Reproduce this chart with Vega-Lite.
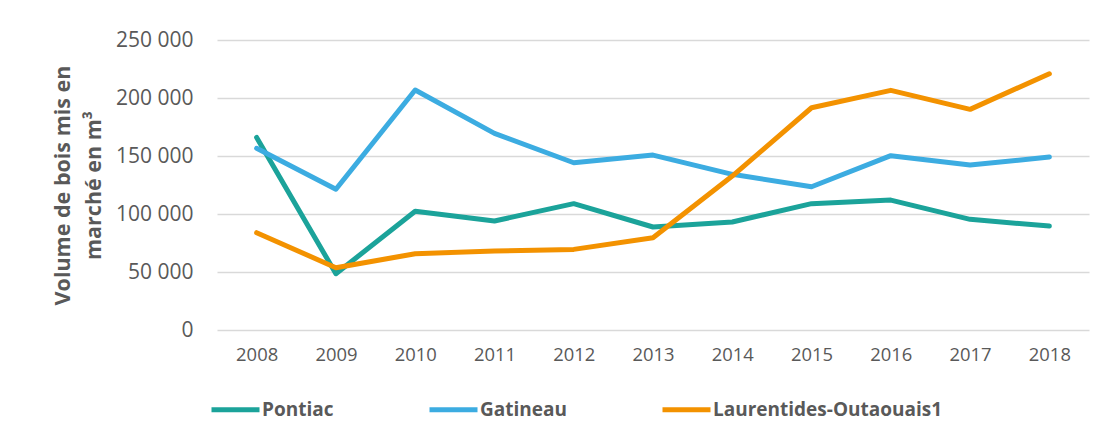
{
  "$schema": "https://vega.github.io/schema/vega-lite/v6.json",
  "width": 872,
  "height": 290,
  "padding": {"left": 52, "top": 29, "right": 18, "bottom": 0},
  "background": "white",
  "config": {
    "locale": {"number": {"decimal": ",", "thousands": " ", "grouping": [3], "currency": ["", " $"]}},
    "view": {"stroke": null},
    "font": "Open Sans",
    "axis": {"labelColor": "#595959", "titleColor": "#595959", "gridColor": "#d9d9d9", "gridWidth": 1.3, "domain": false, "ticks": false}
  },
  "data": {"values": [
    {"year": "2008", "region": "Pontiac", "volume": 166000},
    {"year": "2009", "region": "Pontiac", "volume": 48500},
    {"year": "2010", "region": "Pontiac", "volume": 102300},
    {"year": "2011", "region": "Pontiac", "volume": 94000},
    {"year": "2012", "region": "Pontiac", "volume": 108900},
    {"year": "2013", "region": "Pontiac", "volume": 88800},
    {"year": "2014", "region": "Pontiac", "volume": 93100},
    {"year": "2015", "region": "Pontiac", "volume": 108900},
    {"year": "2016", "region": "Pontiac", "volume": 112000},
    {"year": "2017", "region": "Pontiac", "volume": 95400},
    {"year": "2018", "region": "Pontiac", "volume": 89600},
    {"year": "2008", "region": "Gatineau", "volume": 156600},
    {"year": "2009", "region": "Gatineau", "volume": 121300},
    {"year": "2010", "region": "Gatineau", "volume": 206900},
    {"year": "2011", "region": "Gatineau", "volume": 169500},
    {"year": "2012", "region": "Gatineau", "volume": 144200},
    {"year": "2013", "region": "Gatineau", "volume": 150800},
    {"year": "2014", "region": "Gatineau", "volume": 134200},
    {"year": "2015", "region": "Gatineau", "volume": 123500},
    {"year": "2016", "region": "Gatineau", "volume": 150300},
    {"year": "2017", "region": "Gatineau", "volume": 142200},
    {"year": "2018", "region": "Gatineau", "volume": 149100},
    {"year": "2008", "region": "Laurentides-Outaouais1", "volume": 83900},
    {"year": "2009", "region": "Laurentides-Outaouais1", "volume": 53700},
    {"year": "2010", "region": "Laurentides-Outaouais1", "volume": 65800},
    {"year": "2011", "region": "Laurentides-Outaouais1", "volume": 68100},
    {"year": "2012", "region": "Laurentides-Outaouais1", "volume": 69500},
    {"year": "2013", "region": "Laurentides-Outaouais1", "volume": 79600},
    {"year": "2014", "region": "Laurentides-Outaouais1", "volume": 132700},
    {"year": "2015", "region": "Laurentides-Outaouais1", "volume": 191600},
    {"year": "2016", "region": "Laurentides-Outaouais1", "volume": 206600},
    {"year": "2017", "region": "Laurentides-Outaouais1", "volume": 190200},
    {"year": "2018", "region": "Laurentides-Outaouais1", "volume": 220900}
  ]},
  "mark": {"type": "line", "strokeWidth": 5, "strokeCap": "round", "strokeJoin": "round"},
  "encoding": {
    "x": {"field": "year", "type": "ordinal", "axis": {"labelAngle": 0, "title": null, "labelFontSize": 18.4, "labelPadding": 15, "grid": false}},
    "y": {"field": "volume", "type": "quantitative", "scale": {"domain": [0, 250000]},
      "axis": {"values": [0, 50000, 100000, 150000, 200000, 250000], "format": ",d", "labelFontSize": 21, "labelPadding": 24,
        "title": ["Volume de bois mis en", "marché en m³"], "titleFontSize": 21.5, "titleFontWeight": "bold", "titleLineHeight": 31, "titlePadding": 10}},
    "color": {"field": "region", "type": "nominal",
      "scale": {"domain": ["Pontiac", "Gatineau", "Laurentides-Outaouais1"], "range": ["#1ba39a", "#3cace1", "#f39200"]},
      "legend": {"orient": "none", "legendX": -8, "legendY": 343, "direction": "horizontal", "title": null, "symbolType": "stroke", "symbolStrokeWidth": 5, "symbolSize": 2304,
        "labelFontSize": 19, "labelFontWeight": "bold", "labelColor": "#595959", "labelLimit": 400, "columnPadding": 85, "labelOffset": 0}}
  }
}
